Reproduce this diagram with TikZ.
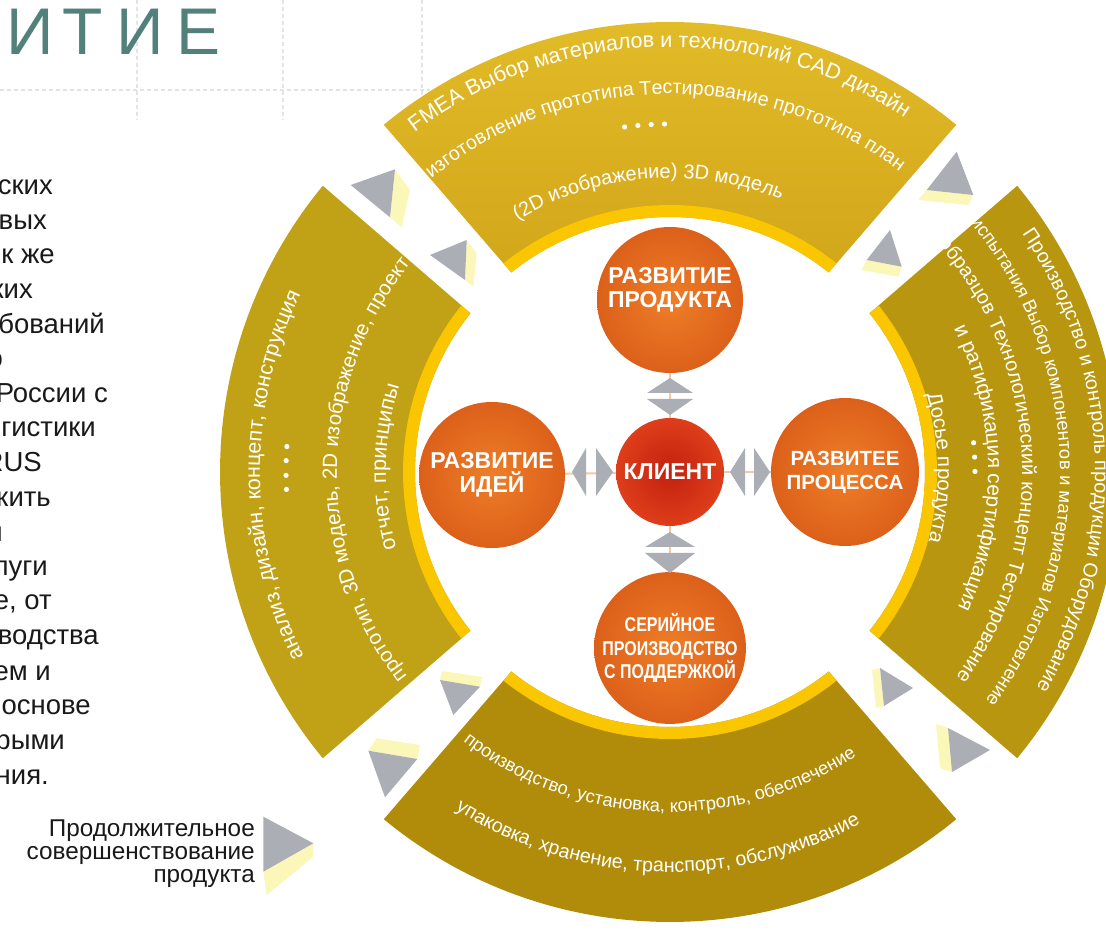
\documentclass[tikz,border=0pt]{standalone}
\usepackage{fontspec}
\setmainfont{Liberation Sans}
\usepackage{graphicx}
\usetikzlibrary{decorations.text}
\definecolor{segtopA}{RGB}{228,190,42}
\definecolor{segtopB}{RGB}{210,166,26}
\definecolor{segleft}{RGB}{193,162,22}
\definecolor{segright}{RGB}{185,150,16}
\definecolor{segbot}{RGB}{176,140,10}
\definecolor{rimcol}{RGB}{250,198,0}
\definecolor{orgin}{RGB}{238,126,40}
\definecolor{orgout}{RGB}{220,96,26}
\definecolor{redin}{RGB}{196,32,16}
\definecolor{redout}{RGB}{222,62,26}
\definecolor{arrgray}{RGB}{172,174,182}
\definecolor{arrpale}{RGB}{250,247,185}
\definecolor{titlecol}{RGB}{82,128,122}
\definecolor{gridcol}{RGB}{228,228,228}
\definecolor{bodytext}{RGB}{25,25,25}
\definecolor{connorange}{RGB}{245,200,160}

\newcommand{\cwtext}[4]{%
  \path[decorate,decoration={text along path,text align=center,text color=white,
    text={|\fontsize{#3}{#3}\selectfont|#4}}]
    (#2+80:#1) arc[start angle=#2+80,end angle=#2-80,radius=#1];}
\newcommand{\ccwtext}[4]{%
  \path[decorate,decoration={text along path,text align=center,text color=white,
    text={|\fontsize{#3}{#3}\selectfont|#4}}]
    (#2-80:#1) arc[start angle=#2-80,end angle=#2+80,radius=#1];}
\newcommand{\ringseg}[2]{%
  \path[#2] (#1+39.5:450) arc[start angle=#1+39.5,end angle=#1-39.5,radius=450]
    -- (#1-38.5:255) arc[start angle=#1-38.5,end angle=#1+38.5,radius=255] -- cycle;
  \fill[rimcol] (#1+38.5:255) arc[start angle=#1+38.5,end angle=#1-38.5,radius=255]
    -- (#1-38.6:267) arc[start angle=#1-38.6,end angle=#1+38.6,radius=267] -- cycle;}

\tikzset{
  orb/.style={circle, inner sep=0pt, shade, inner color=orgin, outer color=orgout,
    text=white, font=\bfseries\fontsize{23}{24}\selectfont, align=center},
  clientorb/.style={orb, inner color=redin, outer color=redout},
  para/.style={anchor=base east, inner sep=0pt, text=bodytext, font=\fontsize{27.5}{32}\selectfont},
  legendtext/.style={anchor=base east, inner sep=0pt, text=bodytext, font=\fontsize{24.3}{26}\selectfont},
  titleletter/.style={anchor=base, inner sep=0pt, text=titlecol, font=\fontsize{66}{70}\selectfont},
  gridline/.style={gridcol, line width=1.2pt, dash pattern=on 4pt off 3pt},
  grayface/.style={fill=arrgray},
  paleface/.style={fill=arrpale},
  dblarrow/.style={fill=arrgray},
  conn/.style={connorange, line width=2pt},
  segtopstyle/.style={top color=segtopA, bottom color=segtopB},
  segleftstyle/.style={fill=segleft},
  segrightstyle/.style={fill=segright},
  segbotstyle/.style={fill=segbot},
}

\begin{document}
\begin{tikzpicture}[x=1pt,y=1pt]
\useasboundingbox (0,0) rectangle (1106,930);
\clip (0,0) rectangle (1106,930);
\fill[white] (0,0) rectangle (1106,930);

% background grid (screen coordinates)
\begin{scope}[yshift=930, yscale=-1]
  \draw[gridline] (0,90) -- (430,90);
  \draw[gridline] (137,0) -- (137,120);
  \draw[gridline] (283,0) -- (283,120);
  \draw[gridline] (422,0) -- (422,95);
\end{scope}

% ring
\begin{scope}[shift={(670,458)}]
  \ringseg{90}{segtopstyle}
  \ringseg{180}{segleftstyle}
  \ringseg{0}{segrightstyle}
  \ringseg{270}{segbotstyle}

  % top segment texts
  \cwtext{425}{91.7}{21.5}{FMEA Выбор материалов и технологий CAD дизайн}
  \cwtext{378}{90.9}{19.6}{изготовление прототипа Тестирование прототипа план}
  \cwtext{294}{94.5}{20}{(2D изображение) 3D модель}
  \foreach \a in {97.5,95.3,93.1,90.9} \fill[white] (\a:348) circle[radius=2.6];

  % left segment texts
  \cwtext{410}{180.5}{21.4}{анализ, дизайн, концепт, конструкция}
  \cwtext{333}{179.6}{20.5}{прототип, 3D модель, 2D изображение, проект}
  \cwtext{284}{179}{21.5}{отчет, принципы}
  \foreach \a in {176.2,178.3,180.5,182.6} \fill[white] (\a:384) circle[radius=2.6];

  % right segment texts
  \cwtext{425}{1.8}{19.8}{Производство и контроль продукции Оборудование}
  \cwtext{390}{1.9}{18.4}{испытания Выбор компонентов и материалов Изготовление}
  \cwtext{352}{2.4}{20}{образцов Технологический концепт Тестирование}
  \cwtext{318}{0.8}{20.7}{и ратификация сертификация}
  \cwtext{268}{0.8}{20.5}{Досье продукта}
  \foreach \a in {5.5,2.8,0.1} \fill[white] (\a:305) circle[radius=2.6];

  % bottom segment texts
  \ccwtext{340}{267.9}{18.3}{производство, установка, контроль, обеспечение}
  \ccwtext{400}{268}{19.7}{упаковка, хранение, транспорт, обслуживание}

  % circles
  \node[clientorb, minimum size=108] (client) at (0,0) {КЛИЕНТ};
  \node[orb, minimum size=146] (prod) at (0,172) {};
  \node[inner sep=0pt, text=white, font=\bfseries\fontsize{23}{24}\selectfont, align=center] (prodtxt) at (0,182) {РАЗВИТИЕ\\ПРОДУКТА};
  \node[orb, minimum size=146] (idea) at (-178,-3) {РАЗВИТИЕ\\ИДЕЙ};
  \node[orb, minimum size=148, font=\bfseries\fontsize{20.5}{24}\selectfont] (proc) at (175,0) {РАЗВИТЕЕ\\ПРОЦЕССА};
  \node[orb, minimum size=148, font=\bfseries\fontsize{20}{23.5}\selectfont] (serial) at (0,-176)
    {\scalebox{0.8}[1]{СЕРИЙНОЕ}\\\scalebox{0.8}[1]{ПРОИЗВОДСТВО}\\\scalebox{0.8}[1]{С ПОДДЕРЖКОЙ}};

  % connectors
  \draw[conn] (prod) -- (client);
  \draw[conn] (idea) -- (client);
  \draw[conn] (proc) -- (client);
  \draw[conn] (serial) -- (client);

  % double arrows
  \fill[dblarrow] (-23,79) -- (23,79) -- (0,94) -- cycle;
  \fill[dblarrow] (-23,73) -- (23,73) -- (0,57) -- cycle;
  \fill[dblarrow] (-25,-75) -- (25,-75) -- (0,-60) -- cycle;
  \fill[dblarrow] (-25,-81) -- (25,-81) -- (0,-101) -- cycle;
  \fill[dblarrow] (-98,0) -- (-84,24) -- (-84,-24) -- cycle;
  \fill[dblarrow] (-74,24) -- (-74,-24) -- (-57,0) -- cycle;
  \fill[dblarrow] (60,0) -- (75,24) -- (75,-24) -- cycle;
  \fill[dblarrow] (84,24) -- (84,-24) -- (100,0) -- cycle;
\end{scope}

% foreground in screen coordinates
\begin{scope}[yshift=930, yscale=-1]
  % title
  \node[titleletter] (t1) at (30,55) {И};
  \node[titleletter] (t2) at (82.5,55) {Т};
  \node[titleletter] (t3) at (140,55) {И};
  \node[titleletter] (t4) at (198.5,55) {Е};

  % left paragraph (cut by the left edge)
  \node[para] (p1) at (53,195) {ских};
  \node[para] (p2) at (47,230) {вых};
  \node[para] (p3) at (55,264) {к же};
  \node[para] (p4) at (33,299) {ких};
  \node[para] (p5) at (105,334) {ебований};
  \node[para] (p6) at (3,368) {о};
  \node[para] (p7) at (108,403) {России с};
  \node[para] (p8) at (96,437) {гистики};
  \node[para] (p9) at (42,472) {RUS};
  \node[para] (p10) at (51,507) {жить};
  \node[para] (p11) at (3,542) {и};
  \node[para] (p12) at (48,576) {луги};
  \node[para] (p13) at (52,610) {е, от};
  \node[para] (p14) at (99,645) {водства};
  \node[para] (p15) at (51,680) {ем и};
  \node[para] (p16) at (91,715) {основе};
  \node[para] (p17) at (65,749) {рыми};
  \node[para] (p18) at (49,784) {ния.};

  % legend
  \node[legendtext] (lg1) at (255,836) {Продолжительное};
  \node[legendtext] (lg2) at (255,859) {совершенствование};
  \node[legendtext] (lg3) at (255,882) {продукта};
  \fill[paleface] (263.3,871.7) -- (313.3,843.3) -- (313.3,856.7) -- (266.7,895) -- cycle;
  \fill[grayface] (263.3,816.7) -- (313.3,843.3) -- (263.3,871.7) -- cycle;

  % gap arrows
  \fill[paleface] (395,169.3) -- (410,190) -- (401.7,227.3) -- (390,217.3) -- cycle;
  \fill[grayface] (350.7,185) -- (395,169.3) -- (390,217.3) -- cycle;
  \fill[paleface] (466.7,240) -- (476.7,253.3) -- (473.3,286.7) -- (465,280) -- cycle;
  \fill[grayface] (430,255) -- (466.7,240) -- (465,280) -- cycle;

  \fill[paleface] (926.7,190) -- (973.3,195) -- (968.3,205) -- (918.3,200) -- cycle;
  \fill[grayface] (956.7,151.7) -- (926.7,190) -- (973.3,195) -- cycle;
  \fill[paleface] (866.7,260) -- (901.7,266.7) -- (898.3,276.7) -- (861.7,270) -- cycle;
  \fill[grayface] (890,230) -- (866.7,260) -- (901.7,266.7) -- cycle;

  \fill[paleface] (442,671) -- (482,677) -- (480,686.7) -- (440,680) -- cycle;
  \fill[grayface] (440,680) -- (480,686.7) -- (453.3,715) -- cycle;
  \fill[paleface] (376.7,738.3) -- (420,745) -- (417.3,759) -- (368.3,750.7) -- cycle;
  \fill[grayface] (368.3,750.7) -- (417.3,759) -- (385,797.3) -- cycle;

  \fill[paleface] (872,670) -- (880,668) -- (884,706) -- (876,708) -- cycle;
  \fill[grayface] (880,668) -- (913,688) -- (884,706) -- cycle;
  \fill[paleface] (936,724) -- (948,728) -- (952,772) -- (940,768) -- cycle;
  \fill[grayface] (948,728) -- (990,750) -- (952,772) -- cycle;
\end{scope}
\end{tikzpicture}
\end{document}
